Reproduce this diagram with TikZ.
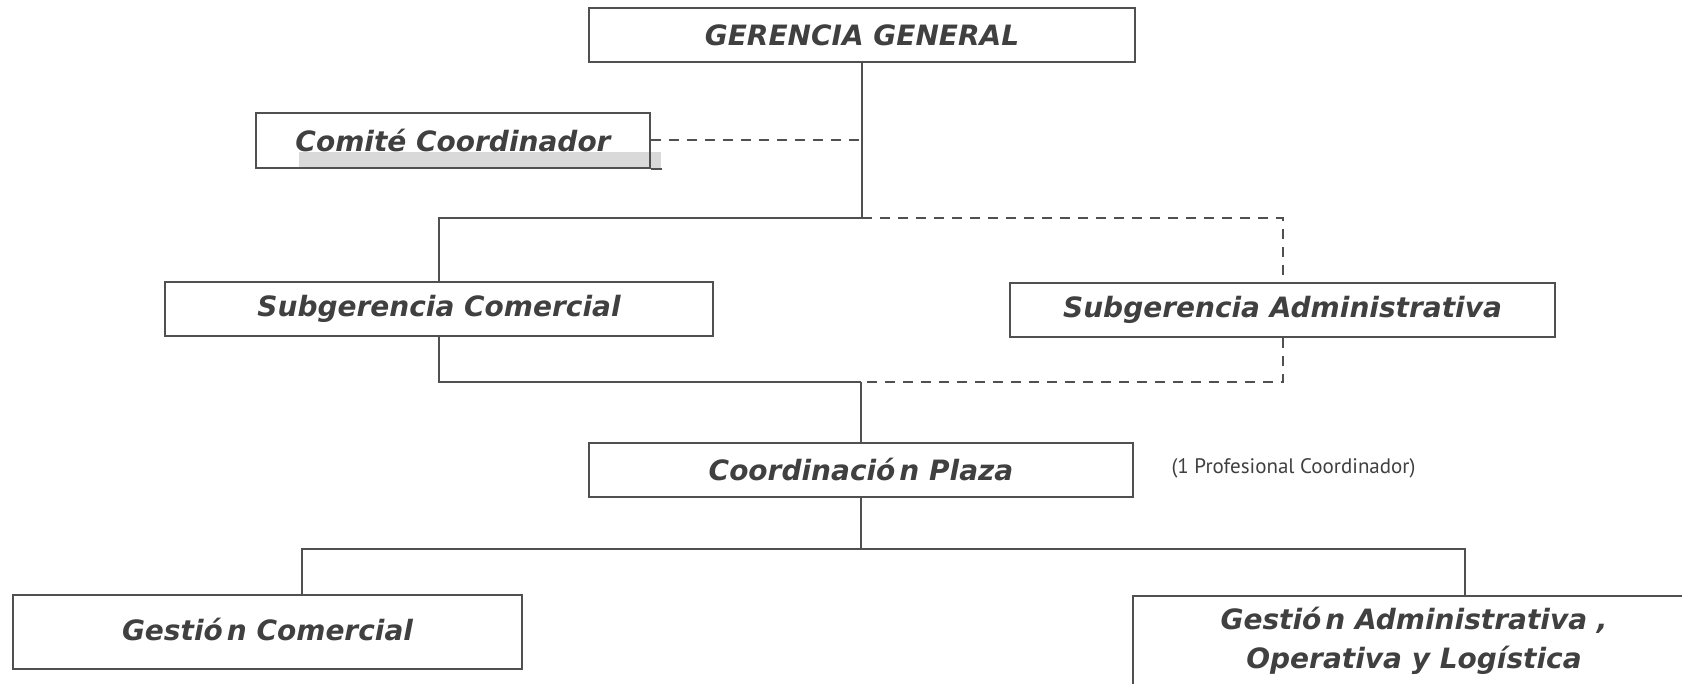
\documentclass[tikz,border=0pt]{standalone}
\usepackage{fontspec}
\setmainfont{DejaVu Sans}
\newfontfamily\notefont{PT Sans}
\definecolor{linec}{HTML}{505050}
\definecolor{textc}{HTML}{404040}
\definecolor{shadec}{HTML}{D9D9D9}
\tikzset{
  orgbox/.style={draw=linec, line width=2pt, inner sep=0pt, align=center,
    text=textc, font=\fontsize{28}{39}\selectfont\bfseries\itshape},
  conn/.style={draw=linec, line width=2pt},
  dconn/.style={draw=linec, line width=2pt, dash pattern=on 10pt off 8pt},
  notetext/.style={text=textc, font=\notefont\fontsize{21}{25}\selectfont}
}
\begin{document}
\begin{tikzpicture}[x=1pt,y=-1pt]
\useasboundingbox (0,0) rectangle (1682,684);
\fill[white] (0,0) rectangle (1682,684);
\begin{scope}
\clip (0,0) rectangle (1682,684);
% shading under the Comite box text
\fill[shadec] (299,152) rectangle (661,168);
\node[orgbox, minimum width=546pt, minimum height=54pt] (gg) at (862,35) {GERENCIA GENERAL};
\node[orgbox, minimum width=394pt, minimum height=55pt] (cc) at (453,140.5) {Comité Coordinador};
\node[orgbox, minimum width=548pt, minimum height=54pt] (sc) at (439,309) {Subgerencia Comercial};
\node[orgbox, minimum width=545pt, minimum height=54pt] (sa) at (1282.5,310) {Subgerencia Administrativa};
\node[orgbox, minimum width=544pt, minimum height=54pt] (cp) at (861,470) {Coordinació\kern4pt n Plaza};
\node[notetext] (note) at (1293.5,468) {(1 Profesional Coordinador)};
\node[orgbox, minimum width=509pt, minimum height=74pt] (gc) at (267.5,632) {\raisebox{5pt}{Gestió\kern4pt n Comercial}};
\node[orgbox, minimum width=562pt, minimum height=90pt] (ga) at (1414,641) {Gestió\kern4pt n Administrativa ,\\ Operativa y Logística};
\draw[conn] (cc.south east) -- ++(11,0);
% junctions
\coordinate (j1) at (862,218);
\coordinate (j2) at (861,382);
\coordinate (j3) at (861,549);
% connectors
\draw[conn] (gg.south) -- (j1);
\draw[dconn] (cc.east) -- (cc.east -| gg.south);
\draw[conn] (j1) -| (sc.north);
\draw[dconn] (j1) -| (sa.north);
\draw[conn] (sc.south) |- (j2);
\draw[dconn] (sa.south) |- (j2);
\draw[conn] (j2) -- (cp.north);
\draw[conn] (cp.south) -- (j3);
\draw[conn] (j3) -| ([xshift=34.5pt]gc.north);
\draw[conn] (j3) -| ([xshift=51pt]ga.north);
\end{scope}
\end{tikzpicture}
\end{document}
